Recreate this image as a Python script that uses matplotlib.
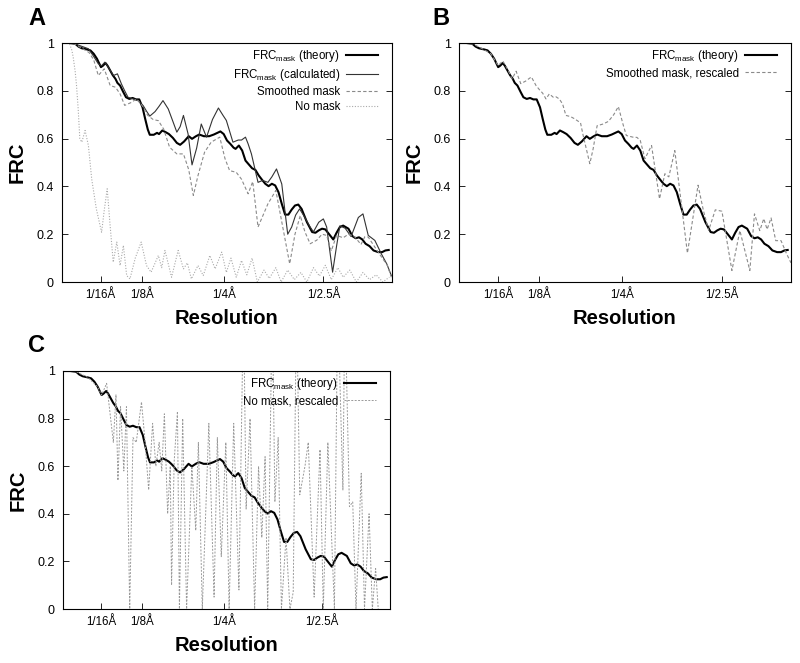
import numpy as np
import matplotlib
matplotlib.use('Agg')
import matplotlib.pyplot as plt

plt.rcParams['font.family'] = ['Liberation Sans', 'DejaVu Sans']
plt.rcParams['mathtext.default'] = 'regular'

# 空間周波数 (1/Å) と FRC の値
theory_f = [0.004, 0.015, 0.024, 0.029, 0.034, 0.042, 0.047, 0.052, 0.057, 0.063,
            0.066, 0.070, 0.073, 0.077, 0.081, 0.085, 0.088, 0.092, 0.097, 0.101,
            0.106, 0.111, 0.116, 0.121, 0.126, 0.130, 0.134, 0.137, 0.143, 0.148,
            0.151, 0.156, 0.161, 0.166, 0.172, 0.178, 0.183, 0.189, 0.196, 0.201,
            0.207, 0.212, 0.219, 0.227, 0.234, 0.244, 0.249, 0.254, 0.259, 0.264,
            0.267, 0.272, 0.277, 0.282, 0.287, 0.292, 0.297, 0.302, 0.307, 0.312,
            0.317, 0.322, 0.327, 0.332, 0.337, 0.342, 0.347, 0.352, 0.357, 0.362,
            0.367, 0.375, 0.383, 0.388, 0.393, 0.398, 0.403, 0.409, 0.415, 0.420,
            0.425, 0.430, 0.438, 0.444, 0.449, 0.454, 0.459, 0.464, 0.470, 0.476,
            0.483, 0.489, 0.494, 0.499]
theory_frc = [1.000, 1.000, 0.997, 0.985, 0.978, 0.973, 0.969, 0.955, 0.934, 0.899,
              0.905, 0.916, 0.905, 0.885, 0.865, 0.850, 0.833, 0.822, 0.794, 0.773,
              0.766, 0.770, 0.764, 0.764, 0.731, 0.683, 0.638, 0.616, 0.616, 0.624,
              0.619, 0.634, 0.627, 0.619, 0.603, 0.582, 0.574, 0.588, 0.610, 0.599,
              0.610, 0.617, 0.610, 0.610, 0.617, 0.630, 0.619, 0.592, 0.578, 0.562,
              0.557, 0.571, 0.550, 0.508, 0.492, 0.476, 0.469, 0.446, 0.428, 0.411,
              0.401, 0.411, 0.404, 0.376, 0.327, 0.282, 0.282, 0.303, 0.320, 0.324,
              0.306, 0.251, 0.209, 0.206, 0.216, 0.223, 0.220, 0.199, 0.178, 0.206,
              0.230, 0.236, 0.223, 0.192, 0.183, 0.187, 0.178, 0.160, 0.150, 0.132,
              0.125, 0.125, 0.132, 0.134]

calc_f = [0.004, 0.020, 0.030, 0.044, 0.051, 0.059, 0.064, 0.069, 0.075, 0.082,
          0.088, 0.094, 0.099, 0.104, 0.112, 0.119, 0.127, 0.132, 0.137, 0.145,
          0.151, 0.157, 0.165, 0.172, 0.178, 0.183, 0.188, 0.195, 0.201, 0.208,
          0.215, 0.223, 0.232, 0.241, 0.248, 0.253, 0.263, 0.271, 0.276, 0.282,
          0.286, 0.291, 0.301, 0.308, 0.316, 0.322, 0.329, 0.337, 0.342, 0.346,
          0.352, 0.358, 0.364, 0.372, 0.380, 0.385, 0.393, 0.400, 0.405, 0.414,
          0.420, 0.425, 0.433, 0.442, 0.453, 0.460, 0.468, 0.478, 0.488, 0.496,
          0.503]
calc_frc = [1.000, 1.000, 0.990, 0.976, 0.948, 0.913, 0.905, 0.920, 0.895, 0.864,
            0.871, 0.829, 0.800, 0.773, 0.766, 0.759, 0.738, 0.715, 0.694, 0.713,
            0.735, 0.759, 0.724, 0.672, 0.627, 0.650, 0.697, 0.620, 0.490, 0.560,
            0.661, 0.606, 0.680, 0.728, 0.697, 0.676, 0.585, 0.594, 0.594, 0.606,
            0.578, 0.536, 0.417, 0.425, 0.417, 0.440, 0.473, 0.410, 0.292, 0.200,
            0.230, 0.280, 0.306, 0.270, 0.230, 0.210, 0.250, 0.264, 0.230, 0.041,
            0.150, 0.235, 0.225, 0.190, 0.270, 0.285, 0.195, 0.174, 0.117, 0.076,
            0.027]

smooth_f = [0.004, 0.020, 0.030, 0.045, 0.052, 0.059, 0.068, 0.077, 0.085, 0.092,
            0.099, 0.108, 0.117, 0.125, 0.134, 0.142, 0.150, 0.158, 0.167, 0.178,
            0.188, 0.196, 0.203, 0.210, 0.220, 0.230, 0.243, 0.251, 0.258, 0.268,
            0.276, 0.286, 0.293, 0.301, 0.316, 0.328, 0.349, 0.357, 0.365, 0.372,
            0.380, 0.390, 0.398, 0.405, 0.412, 0.420, 0.430, 0.438, 0.448, 0.457,
            0.463, 0.468, 0.478, 0.488, 0.497, 0.503]
smooth_frc = [1.000, 1.000, 0.985, 0.960, 0.930, 0.864, 0.892, 0.822, 0.815, 0.787,
              0.739, 0.750, 0.766, 0.740, 0.697, 0.680, 0.675, 0.640, 0.564, 0.536,
              0.536, 0.470, 0.362, 0.445, 0.543, 0.585, 0.606, 0.516, 0.466, 0.459,
              0.430, 0.369, 0.420, 0.230, 0.327, 0.383, 0.076, 0.200, 0.278, 0.210,
              0.160, 0.175, 0.200, 0.195, 0.130, 0.195, 0.185, 0.200, 0.188, 0.157,
              0.190, 0.188, 0.146, 0.105, 0.070, 0.020]

nomask_f = [0.004, 0.015, 0.019, 0.021, 0.024, 0.026, 0.0285, 0.031, 0.034, 0.039,
            0.044, 0.049, 0.056, 0.064, 0.068, 0.0725, 0.0765, 0.0816, 0.087, 0.092,
            0.097, 0.102, 0.107, 0.115, 0.124, 0.132, 0.139, 0.150, 0.155, 0.160,
            0.170, 0.180, 0.188, 0.194, 0.200, 0.210, 0.218, 0.228, 0.236, 0.246,
            0.253, 0.260, 0.268, 0.276, 0.284, 0.292, 0.300, 0.310, 0.318, 0.328,
            0.336, 0.346, 0.356, 0.366, 0.375, 0.385, 0.394, 0.403, 0.412, 0.422,
            0.430, 0.440, 0.450, 0.460, 0.470, 0.480, 0.490, 0.500]
nomask_frc = [1.000, 1.000, 0.969, 0.940, 0.880, 0.822, 0.725, 0.600, 0.585, 0.634,
              0.571, 0.431, 0.306, 0.208, 0.300, 0.390, 0.250, 0.083, 0.167, 0.069,
              0.153, 0.027, 0.013, 0.100, 0.167, 0.069, 0.041, 0.111, 0.060, 0.132,
              0.020, 0.132, 0.055, 0.080, 0.013, 0.069, 0.027, 0.111, 0.055, 0.125,
              0.040, 0.100, 0.020, 0.090, 0.030, 0.100, 0.000, 0.050, 0.015, 0.060,
              0.000, 0.050, 0.010, 0.040, 0.000, 0.060, 0.025, 0.070, 0.010, 0.060,
              0.020, 0.050, 0.000, 0.040, 0.010, 0.030, 0.000, 0.020]

smooth_resc_f = [0.004, 0.024, 0.040, 0.052, 0.063, 0.070, 0.078, 0.084, 0.090, 0.097,
                 0.104, 0.113, 0.120, 0.125, 0.130, 0.135, 0.140, 0.146, 0.150, 0.155,
                 0.160, 0.165, 0.172, 0.178, 0.187, 0.191, 0.201, 0.206, 0.212, 0.221,
                 0.229, 0.237, 0.244, 0.251, 0.256, 0.266, 0.272, 0.277, 0.284, 0.294,
                 0.306, 0.314, 0.320, 0.329, 0.348, 0.364, 0.372, 0.380, 0.390, 0.400,
                 0.415, 0.427, 0.442, 0.449, 0.457, 0.463, 0.468, 0.474, 0.481, 0.489,
                 0.497, 0.504]
smooth_resc_frc = [1.000, 0.997, 0.975, 0.955, 0.905, 0.925, 0.885, 0.850, 0.882, 0.830,
                   0.840, 0.858, 0.822, 0.805, 0.790, 0.766, 0.787, 0.773, 0.775, 0.766,
                   0.745, 0.697, 0.692, 0.683, 0.666, 0.613, 0.495, 0.557, 0.654, 0.661,
                   0.672, 0.700, 0.734, 0.660, 0.613, 0.606, 0.605, 0.592, 0.516, 0.571,
                   0.348, 0.453, 0.440, 0.550, 0.121, 0.405, 0.300, 0.216, 0.302, 0.296,
                   0.048, 0.215, 0.048, 0.285, 0.215, 0.265, 0.220, 0.268, 0.173, 0.173,
                   0.120, 0.080]

nomask_resc_f = [0.004, 0.024, 0.042, 0.057, 0.063, 0.0707, 0.081, 0.085, 0.088, 0.092,
                 0.097, 0.101, 0.106, 0.111, 0.116, 0.124, 0.129, 0.135, 0.141, 0.146,
                 0.151, 0.155, 0.159, 0.164, 0.168, 0.170, 0.174, 0.179, 0.182, 0.187,
                 0.193, 0.201, 0.207, 0.211, 0.217, 0.227, 0.235, 0.240, 0.246, 0.253,
                 0.258, 0.265, 0.273, 0.280, 0.284, 0.290, 0.297, 0.303, 0.308, 0.313,
                 0.317, 0.324, 0.328, 0.333, 0.338, 0.345, 0.351, 0.356, 0.361, 0.366,
                 0.374, 0.379, 0.388, 0.397, 0.402, 0.409, 0.419, 0.424, 0.432, 0.435,
                 0.442, 0.447, 0.452, 0.460, 0.465, 0.472, 0.477, 0.482, 0.486]
nomask_resc_frc = [1.000, 0.997, 0.973, 0.934, 0.899, 0.948, 0.700, 0.900, 0.540, 0.850,
                   0.580, 0.850, 0.000, 0.720, 0.700, 0.870, 0.720, 0.500, 0.780, 0.600,
                   0.700, 0.580, 0.820, 0.400, 0.600, 0.100, 0.620, 0.830, 0.000, 0.800,
                   0.000, 0.600, 0.330, 0.700, 0.000, 0.780, 0.050, 0.720, 0.220, 0.700,
                   0.000, 0.780, 0.080, 1.300, 0.420, 0.800, 0.000, 0.600, 0.300, 0.640,
                   0.000, 1.300, 0.450, 0.720, 0.000, 0.300, 0.000, 0.070, 1.300, 0.480,
                   0.600, 0.700, 0.050, 0.670, 0.000, 0.700, 0.000, 1.300, 0.500, 1.300,
                   0.430, 0.450, 0.000, 0.570, 0.000, 0.400, 0.000, 0.170, 0.000]

xtick_pos = [1 / 16, 1 / 8, 1 / 4, 1 / 2.5]
xtick_lab = ['1/16Å', '1/8Å', '1/4Å', '1/2.5Å']
ytick_pos = [0, 0.2, 0.4, 0.6, 0.8, 1.0]
ytick_lab = ['0', '0.2', '0.4', '0.6', '0.8', '1']

theory_lab = r'FRC$_{mask}$ (theory)'

W, H = 800, 663
fig = plt.figure(figsize=(W / 100, H / 100), dpi=100)


def make_axes(left, top, right, bottom):
    ax = fig.add_axes([left / W, 1 - bottom / H, (right - left) / W, (bottom - top) / H])
    ax.set_xlim(0.004, 0.504)
    ax.set_ylim(0, 1)
    ax.set_xticks(xtick_pos)
    ax.set_xticklabels(xtick_lab, fontsize=8.3)
    ax.set_yticks(ytick_pos)
    ax.set_yticklabels(ytick_lab, fontsize=9)
    ax.tick_params(axis='x', direction='in', length=4, width=0.6, pad=5)
    ax.tick_params(axis='y', direction='in', length=4, width=0.6, pad=6, right=True)
    for s in ax.spines.values():
        s.set_linewidth(0.8)
    ax.set_xlabel('Resolution', fontsize=14.5, fontweight='bold', labelpad=6)
    ax.set_ylabel('FRC', fontsize=14.5, fontweight='bold', labelpad=7)
    return ax


def add_legend(ax):
    ax.legend(loc='upper right', bbox_to_anchor=(0.982, 1.012), frameon=False,
              markerfirst=False, fontsize=8.3, handlelength=2.8, handletextpad=0.5,
              labelspacing=0.25, borderaxespad=0.3, borderpad=0.4)


theory_style = dict(color='black', lw=1.5)
calc_style = dict(color='#333333', lw=0.8)
dash_style = dict(color='#8a8a8a', lw=0.8, dashes=(3, 2))
dot_style = dict(color='#aaaaaa', lw=0.8, dashes=(1, 1.5))

# A
axA = make_axes(62, 43, 392, 282)
axA.plot(theory_f, theory_frc, label=theory_lab, **theory_style)
axA.plot(calc_f, calc_frc, label=r'FRC$_{mask}$ (calculated)', **calc_style)
axA.plot(smooth_f, smooth_frc, label='Smoothed mask', **dash_style)
axA.plot(nomask_f, nomask_frc, label='No mask', **dot_style)
add_legend(axA)

# B
axB = make_axes(459, 43, 791, 282)
axB.plot(theory_f, theory_frc, label=theory_lab, **theory_style)
axB.plot(smooth_resc_f, smooth_resc_frc, label='Smoothed mask, rescaled', **dash_style)
add_legend(axB)

# C
axC = make_axes(63, 371, 390, 609)
axC.plot(theory_f, theory_frc, label=theory_lab, **theory_style)
axC.plot(nomask_resc_f, nomask_resc_frc, label='No mask, rescaled',
         color='#999999', lw=0.7, dashes=(2, 1.5))
add_legend(axC)

for lab, x, y in [('A', 28, 7), ('B', 432, 7), ('C', 28, 334)]:
    fig.text(x / W, 1 - y / H, lab, fontsize=17, fontweight='bold', va='top', ha='left')

fig.savefig('out.png', dpi=100)
